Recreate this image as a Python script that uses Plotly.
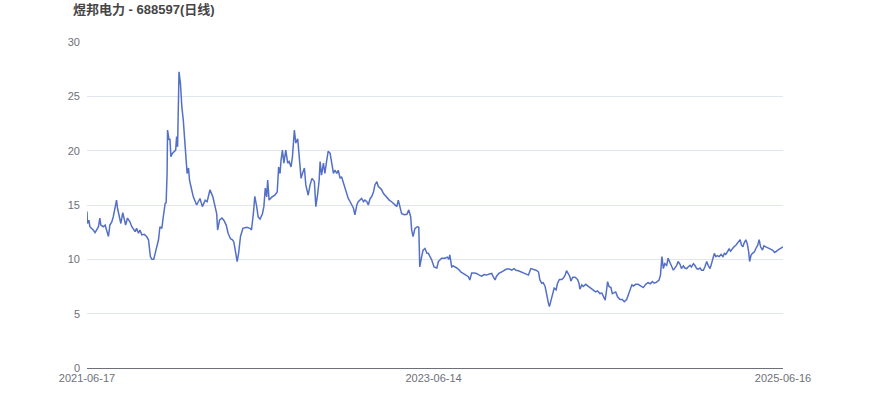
import plotly.graph_objects as go

title_text = "煜邦电力 - 688597(日线)"

dates = [
"2021-06-17","2021-06-18","2021-06-21","2021-06-23","2021-06-30","2021-07-04","2021-07-11","2021-07-14","2021-07-16","2021-07-21",
"2021-07-25","2021-07-28","2021-08-01","2021-08-04","2021-08-08","2021-08-11","2021-08-16","2021-08-18","2021-08-20","2021-08-24",
"2021-08-27","2021-08-31","2021-09-03","2021-09-06","2021-09-10","2021-09-15","2021-09-19","2021-09-22","2021-09-26","2021-09-29",
"2021-10-03","2021-10-06","2021-10-10","2021-10-15","2021-10-20","2021-10-24","2021-10-26","2021-10-28","2021-10-31","2021-11-04",
"2021-11-07","2021-11-10","2021-11-14","2021-11-17","2021-11-21","2021-11-24","2021-11-28","2021-11-30","2021-12-02","2021-12-03",
"2021-12-06","2021-12-08","2021-12-10","2021-12-13","2021-12-17","2021-12-20","2021-12-22","2021-12-24","2021-12-27","2021-12-30",
"2022-01-02","2022-01-05","2022-01-09","2022-01-11","2022-01-13","2022-01-16","2022-01-18","2022-01-21","2022-01-26","2022-02-02",
"2022-02-09","2022-02-14","2022-02-18","2022-02-20","2022-02-24","2022-03-02","2022-03-08","2022-03-13","2022-03-16","2022-03-18",
"2022-03-22","2022-03-27","2022-03-31","2022-04-05","2022-04-09","2022-04-14","2022-04-18","2022-04-21","2022-04-25","2022-04-28",
"2022-05-01","2022-05-05","2022-05-10","2022-05-18","2022-05-25","2022-05-28","2022-06-01","2022-06-04","2022-06-08","2022-06-11",
"2022-06-15","2022-06-20","2022-06-23","2022-06-26","2022-06-29","2022-07-01","2022-07-04","2022-07-09","2022-07-16","2022-07-21",
"2022-07-24","2022-07-27","2022-07-29","2022-08-01","2022-08-04","2022-08-08","2022-08-12","2022-08-15","2022-08-19","2022-08-22",
"2022-08-26","2022-08-29","2022-09-02","2022-09-05","2022-09-09","2022-09-12","2022-09-16","2022-09-19","2022-09-24","2022-09-28",
"2022-10-02","2022-10-07","2022-10-10","2022-10-14","2022-10-17","2022-10-19","2022-10-22","2022-10-26","2022-10-29","2022-11-02",
"2022-11-05","2022-11-09","2022-11-12","2022-11-16","2022-11-19","2022-11-23","2022-11-26","2022-11-30","2022-12-03","2022-12-07",
"2022-12-10","2022-12-14","2022-12-17","2022-12-21","2022-12-24","2022-12-28","2022-12-31","2023-01-04","2023-01-07","2023-01-11",
"2023-01-14","2023-01-18","2023-01-21","2023-01-25","2023-01-28","2023-02-01","2023-02-04","2023-02-08","2023-02-11","2023-02-15",
"2023-02-18","2023-02-22","2023-02-25","2023-03-01","2023-03-04","2023-03-08","2023-03-13","2023-03-18","2023-03-24","2023-03-29",
"2023-04-01","2023-04-05","2023-04-08","2023-04-14","2023-04-19","2023-04-23","2023-04-27","2023-04-29","2023-05-02","2023-05-06",
"2023-05-11","2023-05-14","2023-05-16","2023-05-20","2023-05-23","2023-05-27","2023-05-31","2023-06-03","2023-06-07","2023-06-10",
"2023-06-15","2023-06-21","2023-06-24","2023-06-27","2023-07-01","2023-07-08","2023-07-13","2023-07-16","2023-07-18","2023-07-22",
"2023-07-25","2023-07-31","2023-08-05","2023-08-10","2023-08-15","2023-08-21","2023-08-26","2023-08-29","2023-09-02","2023-09-07",
"2023-09-12","2023-09-18","2023-09-23","2023-09-28","2023-10-03","2023-10-09","2023-10-14","2023-10-17","2023-10-21","2023-10-24",
"2023-10-29","2023-11-04","2023-11-09","2023-11-14","2023-11-20","2023-11-25","2023-11-30","2023-12-04","2023-12-09","2023-12-14",
"2023-12-19","2023-12-25","2023-12-30","2024-01-04","2024-01-09","2024-01-15","2024-01-20","2024-01-23","2024-01-27","2024-01-30",
"2024-02-03","2024-02-06","2024-02-10","2024-02-12","2024-02-15","2024-02-19","2024-02-22","2024-02-26","2024-02-29","2024-03-04",
"2024-03-09","2024-03-12","2024-03-16","2024-03-19","2024-03-23","2024-03-26","2024-03-28","2024-04-01","2024-04-06","2024-04-11",
"2024-04-14","2024-04-16","2024-04-20","2024-04-23","2024-04-28","2024-05-04","2024-05-09","2024-05-14","2024-05-19","2024-05-23",
"2024-05-28","2024-06-01","2024-06-04","2024-06-08","2024-06-11","2024-06-13","2024-06-16","2024-06-20","2024-06-23","2024-06-26",
"2024-06-30","2024-07-04","2024-07-09","2024-07-14","2024-07-18","2024-07-23","2024-07-26","2024-07-30","2024-08-03","2024-08-06",
"2024-08-11","2024-08-16","2024-08-21","2024-08-27","2024-09-01","2024-09-06","2024-09-11","2024-09-15","2024-09-19","2024-09-24",
"2024-09-29","2024-10-02","2024-10-05","2024-10-07","2024-10-08","2024-10-11","2024-10-15","2024-10-18","2024-10-22","2024-10-26",
"2024-10-29","2024-11-01","2024-11-05","2024-11-08","2024-11-12","2024-11-15","2024-11-19","2024-11-22","2024-11-26","2024-11-29",
"2024-12-03","2024-12-06","2024-12-10","2024-12-13","2024-12-17","2024-12-20","2024-12-24","2024-12-27","2024-12-31","2025-01-03",
"2025-01-07","2025-01-10","2025-01-14","2025-01-17","2025-01-21","2025-01-23","2025-01-26","2025-01-29","2025-02-02","2025-02-06",
"2025-02-10","2025-02-13","2025-02-16","2025-02-20","2025-02-23","2025-02-26","2025-03-02","2025-03-05","2025-03-09","2025-03-12",
"2025-03-16","2025-03-18","2025-03-21","2025-03-24","2025-03-26","2025-03-30","2025-04-02","2025-04-05","2025-04-07","2025-04-10",
"2025-04-13","2025-04-17","2025-04-20","2025-04-24","2025-04-27","2025-04-30","2025-05-04","2025-05-07","2025-05-11","2025-05-16",
"2025-05-21","2025-05-25","2025-05-29","2025-06-01","2025-06-05","2025-06-10","2025-06-16",
]

close = [
14.4,13.3,13.6,13.0,12.7,12.45,13.0,13.8,13.15,13.0,
13.15,12.7,12.1,13.15,13.45,13.9,15.3,15.45,14.7,13.9,
13.3,14.3,13.6,13.15,13.8,13.45,13.0,12.85,12.55,12.85,
12.4,12.7,12.25,12.3,12.1,11.8,11.2,10.25,10.0,10.0,
10.55,11.15,11.8,13.0,12.85,13.9,15.15,15.2,17.9,21.9,
21.0,21.1,19.45,19.75,19.9,20.05,21.3,20.35,27.25,26.2,
24.0,22.8,20.35,19.45,17.9,18.4,17.3,16.7,15.75,15.0,
15.6,14.85,15.4,15.45,15.3,16.4,15.75,14.7,14.2,12.7,
13.6,13.8,13.6,13.15,12.4,11.9,11.8,11.6,10.7,9.8,
10.55,12.1,12.85,12.95,12.85,12.7,14.2,15.8,14.85,13.9,
13.7,14.2,14.85,16.55,15.75,17.3,15.45,15.7,15.9,16.2,
18.5,17.9,19.1,20.05,18.85,20.05,18.85,19.0,18.5,19.45,
21.9,20.7,21.1,19.45,17.45,17.9,18.4,16.85,15.9,16.85,
17.45,17.15,14.85,16.05,17.3,19.0,17.75,18.85,17.9,19.15,
19.95,19.75,18.85,17.9,18.2,17.9,18.2,17.45,17.6,17.0,
16.7,16.05,15.6,15.3,15.0,14.7,14.1,15.0,15.3,15.45,
15.6,15.3,15.45,15.3,15.0,15.6,15.75,16.2,16.85,17.15,
16.7,16.55,16.4,16.05,15.9,15.6,15.45,15.3,15.0,14.85,
15.45,14.55,14.2,14.1,14.15,14.55,13.9,12.7,12.1,12.85,
13.0,12.95,9.3,10.25,10.85,11.0,10.55,10.55,10.25,9.95,
9.3,9.2,9.8,9.95,10.1,10.1,10.2,10.0,10.4,9.3,
9.4,9.25,9.1,8.85,8.7,8.55,8.4,8.1,8.75,8.75,
8.7,8.55,8.45,8.6,8.55,8.65,8.7,8.4,8.1,8.45,
8.7,8.85,9.0,9.1,9.1,9.0,9.15,9.0,8.95,8.85,
8.75,8.7,8.55,9.15,9.1,9.0,8.85,8.1,7.8,7.85,
7.5,6.7,5.95,5.65,6.25,6.85,7.35,7.2,7.8,8.15,
8.15,8.25,8.55,8.95,8.65,8.4,8.0,8.35,8.35,8.15,
7.8,7.25,7.65,7.5,7.7,7.5,7.35,7.2,7.0,7.1,
6.85,6.9,6.55,6.25,7.2,7.95,7.5,7.4,6.85,6.9,
7.0,6.55,6.3,6.3,6.1,6.3,6.7,7.25,7.65,7.55,
7.7,7.7,7.55,7.4,7.7,7.85,7.75,7.95,7.8,7.9,
8.1,8.55,10.25,9.5,9.15,9.6,9.45,10.1,9.6,9.3,
9.0,9.2,9.45,9.8,9.55,9.15,9.4,9.2,9.15,9.3,
9.45,9.3,9.6,9.45,9.15,9.1,9.2,9.0,9.0,9.3,
9.8,9.45,9.15,9.6,10.25,10.55,10.25,10.35,10.25,10.45,
10.25,10.55,10.45,10.7,10.95,10.75,11.0,11.15,11.3,11.45,
11.7,11.8,11.3,11.15,11.45,11.8,11.45,10.7,9.8,10.4,
10.55,10.7,11.0,11.3,11.8,11.15,10.85,11.25,11.15,11.05,
11.0,10.85,10.65,10.7,10.85,11.0,11.15,
]

x_tick_dates = ["2021-06-17", "2023-06-14", "2025-06-16"]
y_ticks = [0, 5, 10, 15, 20, 25, 30]

fig = go.Figure()
fig.add_trace(go.Scatter(
    x=dates, y=close, mode="lines",
    line=dict(color="#5470c6", width=1.5),
    hoverinfo="x+y", showlegend=False,
))

font_family = "Liberation Sans, Arial, Noto Sans CJK SC, sans-serif"

fig.update_layout(
    width=870, height=417,
    margin=dict(l=87, r=87, t=42, b=49),
    paper_bgcolor="white", plot_bgcolor="white",
    font=dict(family=font_family, color="#6e7079", size=11),
    title=dict(
        text="<b>" + title_text + "</b>",
        x=73 / 870, xanchor="left", xref="container",
        y=1 - 9 / 417, yanchor="middle", yref="container",
        font=dict(size=13, color="#464646", family="Liberation Sans, Noto Sans CJK SC, sans-serif"),
    ),
    xaxis=dict(
        type="date",
        range=[x_tick_dates[0], x_tick_dates[-1]],
        tickvals=x_tick_dates, ticktext=x_tick_dates,
        showgrid=False, zeroline=False,
        showline=True, linecolor="#6e7079", linewidth=1,
        ticks="", tickfont=dict(size=11, color="#6e7079"),
        fixedrange=True,
    ),
    yaxis=dict(
        range=[0, 30], tickvals=y_ticks,
        showgrid=True, gridcolor="#e0e6f1", gridwidth=1,
        zeroline=False, showline=False, ticks="",
        ticklabelstandoff=6,
        tickfont=dict(size=11, color="#6e7079"),
        fixedrange=True,
    ),
)

fig.write_html(
    "out.html",
    config={"displayModeBar": False},
    post_script="document.body.style.margin='0';document.body.style.padding='0';",
)
